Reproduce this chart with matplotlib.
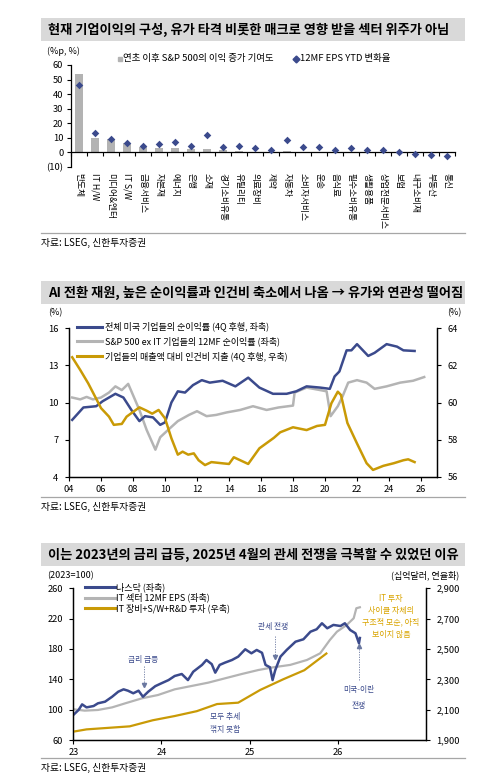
import numpy as np
import matplotlib
matplotlib.use('Agg')
import matplotlib.pyplot as plt
from matplotlib.lines import Line2D
from matplotlib.patches import Rectangle
import matplotlib.ticker as mticker

# ---------------- DATA ----------------
sectors = ['반도체', 'IT H/W', '미디어&엔터', 'IT S/W', '금융서비스', '자본재', '에너지', '은행',
           '소재', '경기소비유통', '유틸리티', '의료장비', '제약', '자동차', '소비자서비스', '운송',
           '음식료', '필수소비유통', '생활용품', '상업전문서비스', '보험', '내구소비재', '부동산', '통신']
contrib = [54.0, 9.7, 9.2, 6.3, 4.0, 2.9, 2.9, 2.4, 2.4, 1.7, 1.3, 0.5, 0.3, 1.0, 0.3, 0.3,
           0.2, 0.2, 0.2, 0.1, 0.1, -0.2, -0.2, -0.3]
eps_ytd = [46.2, 13.1, 9.0, 6.3, 4.7, 5.6, 7.0, 4.5, 11.8, 3.6, 4.7, 2.9, 1.5, 8.6, 3.8, 3.8,
           1.9, 3.3, 1.7, 1.7, 0.5, -1.2, -1.7, -2.4]
p1_yticks = [-10, 0, 10, 20, 30, 40, 50, 60]
p1_ylabels = ['(10)', '0', '10', '20', '30', '40', '50', '60']

margin_t = [2004.2, 2004.9, 2005.7, 2006.1, 2006.9, 2007.4, 2007.9, 2008.4, 2008.75, 2009.25, 2009.7,
            2010.0, 2010.4, 2010.8, 2011.25, 2011.75, 2012.3, 2012.8, 2013.6, 2014.4, 2015.2, 2015.9,
            2016.75, 2017.6, 2018.2, 2018.85, 2019.7, 2020.3, 2020.6, 2020.9, 2021.35, 2021.65, 2022.0,
            2022.7, 2023.1, 2023.85, 2024.5, 2024.9, 2025.6]
margin_v = [8.6, 9.6, 9.7, 10.1, 10.7, 10.4, 9.4, 8.5, 8.9, 8.8, 8.2, 8.4, 10.0, 10.9, 10.8, 11.4,
            11.8, 11.6, 11.75, 11.3, 12.0, 11.2, 10.7, 10.7, 10.9, 11.3, 11.2, 11.1, 12.1, 12.5, 14.2,
            14.2, 14.7, 13.75, 14.0, 14.7, 14.5, 14.2, 14.15]
exit_t = [2004.2, 2004.7, 2005.1, 2005.5, 2006.0, 2006.5, 2006.9, 2007.3, 2007.7, 2007.9, 2008.4,
          2008.85, 2009.4, 2009.7, 2010.2, 2010.8, 2011.5, 2012.0, 2012.6, 2013.2, 2013.85, 2014.7,
          2015.5, 2016.35, 2017.1, 2018.0, 2018.1, 2018.85, 2019.7, 2020.1, 2020.35, 2020.8, 2021.1,
          2021.45, 2022.0, 2022.6, 2023.1, 2023.85, 2024.7, 2025.5, 2026.2]
exit_v = [10.4, 10.25, 10.45, 10.25, 10.4, 10.8, 11.3, 11.0, 11.5, 10.9, 9.4, 7.8, 6.2, 7.2, 7.8,
          8.5, 9.0, 9.3, 8.9, 9.0, 9.2, 9.4, 9.7, 9.4, 9.6, 9.75, 10.8, 11.2, 11.0, 10.9, 8.9, 9.7,
          10.5, 11.6, 11.8, 11.6, 11.1, 11.3, 11.6, 11.75, 12.05]
labor_t = [2004.2, 2004.7, 2005.2, 2005.7, 2006.0, 2006.5, 2006.8, 2007.3, 2007.6, 2008.4, 2008.85,
           2009.2, 2009.6, 2010.0, 2010.4, 2010.8, 2011.1, 2011.45, 2011.8, 2012.1, 2012.5, 2012.9,
           2013.65, 2014.0, 2014.3, 2014.7, 2015.2, 2015.9, 2016.8, 2017.2, 2018.0, 2018.85, 2019.5,
           2020.0, 2020.4, 2020.8, 2021.0, 2021.4, 2022.0, 2022.6, 2023.0, 2023.65, 2024.3, 2024.9,
           2025.2, 2025.6]
labor_v = [62.43, 61.75, 61.03, 60.2, 59.7, 59.24, 58.8, 58.85, 59.24, 59.74, 59.56, 59.4, 59.6,
           59.15, 58.08, 57.2, 57.36, 57.2, 57.27, 56.9, 56.64, 56.8, 56.73, 56.7, 57.06, 56.9, 56.7,
           57.54, 58.1, 58.4, 58.67, 58.52, 58.74, 58.8, 59.96, 60.58, 60.4, 58.9, 57.8, 56.74, 56.38,
           56.6, 56.74, 56.9, 56.95, 56.8]
p2_xticks = list(range(2004, 2027, 2))
p2_xlabels = ['%02d' % (y % 100) for y in p2_xticks]

nas_t = [2023.0, 2023.06, 2023.1, 2023.15, 2023.23, 2023.28, 2023.36, 2023.44, 2023.51, 2023.57,
         2023.62, 2023.68, 2023.74, 2023.79, 2023.85, 2023.93, 2024.0, 2024.08, 2024.15, 2024.23,
         2024.3, 2024.36, 2024.46, 2024.51, 2024.57, 2024.61, 2024.66, 2024.72, 2024.8, 2024.87,
         2024.95, 2025.02, 2025.08, 2025.14, 2025.18, 2025.23, 2025.26, 2025.29, 2025.35, 2025.42,
         2025.52, 2025.61, 2025.69, 2025.76, 2025.82, 2025.88, 2025.95, 2026.03, 2026.08, 2026.14,
         2026.2, 2026.24, 2026.25]
nas_v = [93, 99.6, 107, 103, 104.8, 108.4, 110.5, 117, 123.7, 126.8, 125, 121.6, 125, 117, 123.7,
         131, 134.8, 139, 144.4, 147, 139, 150, 159, 165.5, 160, 148.8, 159, 162, 165.5, 169.9,
         179.6, 174.3, 178.7, 175, 159, 155.9, 139, 152, 170, 178.7, 189.6, 192.8, 202.8, 206,
         213.9, 207.3, 211.7, 210.3, 213.9, 205, 200.7, 187.5, 194.5]
eps_t = [2023.0, 2023.13, 2023.28, 2023.44, 2023.59, 2023.78, 2023.96, 2024.15, 2024.34, 2024.53,
         2024.72, 2024.91, 2025.1, 2025.27, 2025.46, 2025.65, 2025.8, 2025.91, 2025.99, 2026.1,
         2026.18, 2026.21, 2026.25]
eps_v = [100.5, 98.7, 99.6, 103, 108.4, 115, 119.3, 126.8, 131.2, 135.6, 141.3, 147, 152.3, 155.9,
         159, 165.5, 174.3, 191.9, 202.8, 211.6, 220.5, 233.7, 235]
inv_t = [2023.0, 2023.15, 2023.64, 2023.9, 2024.15, 2024.4, 2024.63, 2024.87, 2025.12, 2025.38,
         2025.62, 2025.87]
inv_v = [1955, 1970, 1990, 2030, 2058, 2090, 2137, 2146, 2230, 2300, 2360, 2470]
p3_xticks = [2023, 2024, 2025, 2026]
p3_xlabels = ['23', '24', '25', '26']

# ---------------- STYLE ----------------
FONT = ['Noto Sans CJK KR', 'DejaVu Sans']
plt.rcParams['font.family'] = FONT
plt.rcParams['axes.linewidth'] = 0.9
NAVY = '#3B4A8C'
GRAY = '#B4B4B4'
GOLD = '#C99A06'
NOTE_GOLD = '#D9A400'
ARROW_C = '#6A78A0'

W, H = 499, 780
fig = plt.figure(figsize=(W / 100, H / 100), dpi=100)

def fx(x): return x / W
def fy(y): return 1 - y / H
def rect(x0, x1, yt, yb): return [x0 / W, 1 - yb / H, (x1 - x0) / W, (yb - yt) / H]

def ftext(x, y, s, **kw):
    kw.setdefault('fontsize', 6.3)
    kw.setdefault('va', 'center')
    kw.setdefault('ha', 'left')
    fig.text(fx(x), fy(y), s, **kw)

titles = ['현재 기업이익의 구성, 유가 타격 비롯한 매크로 영향 받을 섹터 위주가 아님',
          'AI 전환 재원, 높은 순이익률과 인건비 축소에서 나옴 → 유가와 연관성 떨어짐',
          '이는 2023년의 금리 급등, 2025년 4월의 관세 전쟁을 극복할 수 있었던 이유']
for (yt, yb), t in zip([(18, 41), (281.5, 304), (543, 566)], titles):
    fig.add_artist(Rectangle((fx(41), fy(yb)), (465 - 41) / W, (yb - yt) / H,
                             transform=fig.transFigure, facecolor='#D9D9D9', edgecolor='none'))
    ftext(48, (yt + yb) / 2 + 0.5, t, fontsize=9.5, fontweight='bold')

for ysep, ysrc in [(233, 243), (497, 507), (758, 768)]:
    fig.add_artist(Line2D([fx(41), fx(465)], [fy(ysep)] * 2, transform=fig.transFigure,
                          color='#A6A6A6', lw=0.9))
    ftext(41, ysrc, '자료: LSEG, 신한투자증권', fontsize=7)

def style_ticks(ax):
    ax.tick_params(axis='both', which='both', direction='out', length=3, width=0.8,
                   labelsize=6.7, pad=2.5, colors='black')

# ---------------- PANEL 1 ----------------
ax1 = fig.add_axes(rect(71, 455, 65, 167))
xc = np.arange(len(sectors)) + 0.5
ax1.bar(xc, contrib, width=0.55, color='#B3B3B3', zorder=2)
ax1.scatter(xc, eps_ytd, marker='D', s=15, color=NAVY, zorder=3, linewidths=0)
ax1.set_xlim(0, len(sectors))
ax1.set_ylim(-10, 60)
for s in ['top', 'right']:
    ax1.spines[s].set_visible(False)
ax1.spines['bottom'].set_position(('data', 0))
ax1.set_xticks(np.arange(len(sectors) + 1))
ax1.set_xticklabels([])
ax1.set_yticks(p1_yticks)
ax1.set_yticklabels(p1_ylabels)
style_ticks(ax1)
for xi, c in zip(xc, sectors):
    ax1.text(xi, -14, c, rotation=-90, ha='center', va='top', fontsize=6.3, clip_on=False)
ftext(47, 51, '(%p, %)', fontsize=6.5)
fig.add_artist(Line2D([fx(119.5)], [fy(58.5)], marker='s', markersize=3.5, color='#B3B3B3',
                      transform=fig.transFigure, linestyle='none'))
ftext(123, 58.5, '연초 이후 S&P 500의 이익 증가 기여도', fontsize=6.8)
fig.add_artist(Line2D([fx(296)], [fy(58.5)], marker='D', markersize=3.5, color=NAVY,
                      transform=fig.transFigure, linestyle='none'))
ftext(300, 58.5, '12MF EPS YTD 변화율', fontsize=6.8)

# ---------------- PANEL 2 ----------------
ax2 = fig.add_axes(rect(69, 437, 328, 477))
ax2b = ax2.twinx()
ax2.plot(exit_t, exit_v, color=GRAY, lw=1.8, zorder=2)
ax2.plot(margin_t, margin_v, color=NAVY, lw=1.8, zorder=3)
ax2b.plot(labor_t, labor_v, color=GOLD, lw=1.8)
ax2.set_xlim(2004, 2027)
ax2.set_ylim(4, 16)
ax2b.set_ylim(56, 64)
ax2.set_yticks([4, 7, 10, 13, 16])
ax2b.set_yticks([56, 58, 60, 62, 64])
ax2.set_xticks(p2_xticks)
ax2.set_xticklabels(p2_xlabels)
for a in (ax2, ax2b):
    a.spines['top'].set_visible(False)
    style_ticks(a)
ax2.tick_params(axis='y', pad=4.5)
ax2b.tick_params(axis='y', pad=4.5)
ftext(55, 313, '(%)', ha='center', fontsize=6.5)
ftext(454, 313, '(%)', ha='center', fontsize=6.5)
leg2 = [(NAVY, '전체 미국 기업들의 순이익률 (4Q 후행, 좌축)'),
        (GRAY, 'S&P 500 ex IT 기업들의 12MF 순이익률 (좌축)'),
        (GOLD, '기업들의 매출액 대비 인건비 지출 (4Q 후행, 우축)')]
for i, (c, t) in enumerate(leg2):
    yy = 326.7 + i * 14.7
    fig.add_artist(Line2D([fx(77), fx(102)], [fy(yy)] * 2, color=c, lw=2.2,
                          transform=fig.transFigure))
    ftext(105, yy, t, fontsize=6.5)

# ---------------- PANEL 3 ----------------
ax3 = fig.add_axes(rect(73.3, 426, 588.3, 740))
ax3b = ax3.twinx()
ax3.plot(eps_t, eps_v, color=GRAY, lw=1.6, zorder=2)
ax3.plot(nas_t, nas_v, color=NAVY, lw=1.8, zorder=3)
ax3b.plot(inv_t, inv_v, color=GOLD, lw=1.6)
ax3.set_xlim(2023, 2027)
ax3.set_ylim(60, 260)
ax3b.set_ylim(1900, 2900)
ax3.set_yticks([60, 100, 140, 180, 220, 260])
ax3b.set_yticks([1900, 2100, 2300, 2500, 2700, 2900])
ax3b.yaxis.set_major_formatter(mticker.FuncFormatter(lambda v, p: '{:,.0f}'.format(v)))
ax3.set_xticks(p3_xticks)
ax3.set_xticklabels(p3_xlabels)
for a in (ax3, ax3b):
    a.spines['top'].set_visible(False)
    style_ticks(a)
ax3.tick_params(axis='y', pad=4.5)
ax3b.tick_params(axis='y', pad=4.5)
ftext(70, 575.7, '(2023=100)', ha='center', fontsize=6.5)
ftext(425, 575.7, '(십억달러, 연율화)', ha='center', fontsize=6.5)
leg3 = [(NAVY, '나스닥 (좌축)'), (GRAY, 'IT 섹터 12MF EPS (좌축)'),
        (GOLD, 'IT 장비+S/W+R&D 투자 (우축)')]
for i, (c, t) in enumerate(leg3):
    yy = 587 + i * 10.7
    fig.add_artist(Line2D([fx(85), fx(115)], [fy(yy)] * 2, color=c, lw=2.2,
                          transform=fig.transFigure))
    ftext(116, yy, t, fontsize=6.5)

def darrow(x, y0, y1):
    fig.add_artist(Line2D([fx(x), fx(x)], [fy(y0), fy(y1)], color=ARROW_C, lw=0.6,
                          linestyle=(0, (1.5, 1.5)), transform=fig.transFigure))
    fig.add_artist(Line2D([fx(x)], [fy(y1)], marker='v' if y1 > y0 else '^', markersize=3,
                          color=ARROW_C, linestyle='none', transform=fig.transFigure))

ftext(273, 627, '관세 전쟁', fontsize=5.6, color=NAVY, ha='center')
darrow(275, 636, 657)
ftext(143, 660, '금리 급등', fontsize=5.6, color=NAVY, ha='center')
darrow(144, 666, 685)
ftext(359, 690, '미국-이란', fontsize=5.6, color=NAVY, ha='center')
ftext(359, 706, '전쟁', fontsize=5.6, color=NAVY, ha='center')
darrow(359, 680, 646)
ftext(225, 717, '모두 추세', fontsize=5.6, color=NAVY, ha='center')
ftext(225, 730, '꺾지 못함', fontsize=5.6, color=NAVY, ha='center')
for i, t in enumerate(['IT 투자', '사이클 자체의', '구조적 모순, 아직', '보이지 않음']):
    ftext(391, 598 + i * 12, t, fontsize=5.8, color=NOTE_GOLD, ha='center')

fig.savefig('out.png', dpi=100)
